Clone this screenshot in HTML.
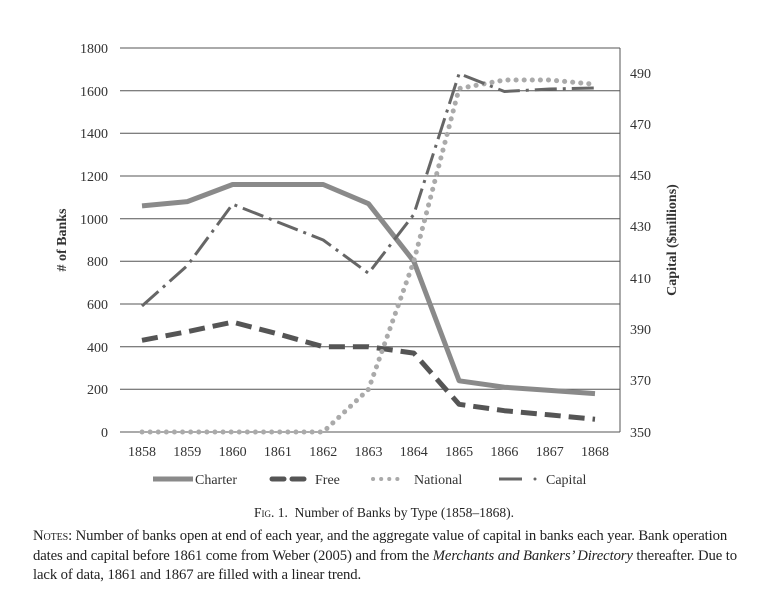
<!DOCTYPE html>
<html><head><meta charset="utf-8"><style>
body{margin:0;background:#fff;width:768px;height:596px;overflow:hidden;font-family:"Liberation Serif",serif;color:#222}
.cap{position:absolute;left:0;width:768px;text-align:center;top:505px;font-size:13.5px}
.notes{position:absolute;left:33px;top:527px;width:715px;font-size:14.7px;line-height:19.5px;letter-spacing:-0.1px}
.sc{font-variant:small-caps}
</style></head><body>
<svg width="768" height="500" style="position:absolute;left:0;top:0" font-family="Liberation Serif, serif" font-size="14" fill="#333">
<g stroke="#555" stroke-width="1">
<line x1="120" y1="48" x2="620" y2="48"/><line x1="120" y1="90.7" x2="620" y2="90.7"/><line x1="120" y1="133.3" x2="620" y2="133.3"/><line x1="120" y1="176" x2="620" y2="176"/><line x1="120" y1="218.7" x2="620" y2="218.7"/><line x1="120" y1="261.3" x2="620" y2="261.3"/><line x1="120" y1="304" x2="620" y2="304"/><line x1="120" y1="346.7" x2="620" y2="346.7"/><line x1="120" y1="389.3" x2="620" y2="389.3"/><line x1="120" y1="432" x2="620" y2="432"/>
<line x1="620" y1="48" x2="620" y2="432"/>
</g>
<g text-anchor="end">
<text x="108" y="53">1800</text><text x="108" y="96">1600</text><text x="108" y="138">1400</text><text x="108" y="181">1200</text><text x="108" y="224">1000</text><text x="108" y="266">800</text><text x="108" y="309">600</text><text x="108" y="352">400</text><text x="108" y="394">200</text><text x="108" y="437">0</text>
</g>
<g text-anchor="start">
<text x="630" y="78">490</text><text x="630" y="129">470</text><text x="630" y="180">450</text><text x="630" y="231">430</text><text x="630" y="283">410</text><text x="630" y="334">390</text><text x="630" y="385">370</text><text x="630" y="437">350</text>
</g>
<g text-anchor="middle">
<text x="142" y="456">1858</text><text x="187.3" y="456">1859</text><text x="232.6" y="456">1860</text><text x="277.9" y="456">1861</text><text x="323.2" y="456">1862</text><text x="368.5" y="456">1863</text><text x="413.8" y="456">1864</text><text x="459.1" y="456">1865</text><text x="504.4" y="456">1866</text><text x="549.7" y="456">1867</text><text x="595" y="456">1868</text>
</g>
<text transform="translate(66,240) rotate(-90)" text-anchor="middle" font-weight="bold">﻿# of Banks</text>
<text transform="translate(676,240) rotate(-90)" text-anchor="middle" font-weight="bold">Capital ($millions)</text>
<g fill="none" stroke-linejoin="round">
<polyline stroke="#8a8a8a" stroke-width="5" points="142,205.9 187.3,201.6 232.6,184.5 277.9,184.5 323.2,184.5 368.5,203.7 413.8,261.3 459.1,380.8 504.4,387.2 549.7,390.4 595,393.6"/>
<polyline stroke="#555" stroke-width="5" stroke-dasharray="16,8" points="142,340.3 187.3,331.7 232.6,322.1 277.9,333.9 323.2,346.7 368.5,346.7 413.8,353.1 459.1,404.3 504.4,410.7 549.7,414.9 595,419.2"/>
<polyline stroke="#aaa" stroke-width="5" stroke-linecap="round" stroke-dasharray="0.1,8" points="142,432 187.3,432 232.6,432 277.9,432 323.2,432 368.5,389.3 413.8,261.3 459.1,88.5 504.4,80 549.7,80 595,84.3"/>
<polyline stroke="#666" stroke-width="3" stroke-dasharray="22,6,3,6" points="142,306 187.3,265.6 232.6,204.2 277.9,222.1 323.2,240 368.5,273.3 413.8,214.4 459.1,73.6 504.4,91.5 549.7,89 595,88"/>
</g>
<g>
<line x1="153" y1="479" x2="193" y2="479" stroke="#8a8a8a" stroke-width="5"/>
<text x="195" y="484">Charter</text>
<line x1="272" y1="479" x2="284" y2="479" stroke="#555" stroke-width="5" stroke-linecap="round"/>
<line x1="292" y1="479" x2="304" y2="479" stroke="#555" stroke-width="5" stroke-linecap="round"/>
<text x="315" y="484">Free</text>
<line x1="373" y1="479" x2="405" y2="479" stroke="#aaa" stroke-width="4" stroke-linecap="round" stroke-dasharray="0.1,8"/>
<text x="414" y="484">National</text>
<line x1="499" y1="479" x2="522" y2="479" stroke="#666" stroke-width="3"/>
<circle cx="535" cy="479" r="1.5" fill="#666"/>
<text x="546" y="484">Capital</text>
</g>
</svg>
<div class="cap"><span class="sc">Fig.</span> 1.&nbsp; Number of Banks by Type (1858–1868).</div>
<div class="notes"><span class="sc">Notes:</span> Number of banks open at end of each year, and the aggregate value of capital in banks each year. Bank operation dates and capital before 1861 come from Weber (2005) and from the <i>Merchants and Bankers’ Directory</i> thereafter. Due to lack of data, 1861 and 1867 are filled with a linear trend.</div>
</body></html>
